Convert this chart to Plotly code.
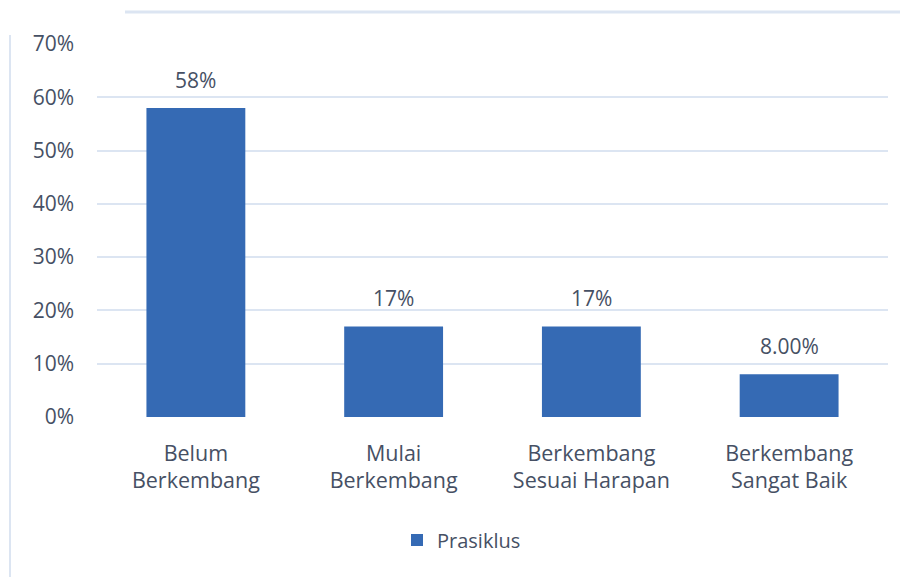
import plotly.graph_objects as go

categories = ["Belum<br>Berkembang", "Mulai<br>Berkembang", "Berkembang<br>Sesuai Harapan", "Berkembang<br>Sangat Baik"]
values = [0.58, 0.17, 0.17, 0.08]
value_labels = ["58%", "17%", "17%", "8.00%"]
series_name = "Prasiklus"
y_ticks = [0, 0.1, 0.2, 0.3, 0.4, 0.5, 0.6, 0.7]

TEXT = "#465064"
GRID = "#dce5f2"
BAR = "#356ab4"
FONT = "Open Sans"

OFF = 8  # page body margin
W, H = 900, 569
L, R, T, B = 89, 20, 36, 160
pw, ph = W - L - R, H - T - B

def px_x(x):
    return (x - OFF - L) / pw

def px_y(y):
    return (H - B - (y - OFF)) / ph

fig = go.Figure()
fig.add_trace(go.Bar(
    x=categories, y=values, name=series_name,
    marker=dict(color=BAR, line=dict(width=0)),
    showlegend=True,
))

for c, v, t in zip(categories, values, value_labels):
    fig.add_annotation(x=c, y=v, text=t, showarrow=False, yanchor="bottom",
                       yshift=12, font=dict(family=FONT, size=21, color=TEXT))

fig.add_shape(type="line", xref="paper", yref="paper",
              x0=px_x(125), x1=px_x(915), y0=px_y(12), y1=px_y(12),
              line=dict(color=GRID, width=3), layer="below")
fig.add_shape(type="line", xref="paper", yref="paper",
              x0=px_x(10), x1=px_x(10), y0=px_y(35), y1=px_y(585),
              line=dict(color=GRID, width=2), layer="below")

fig.update_layout(
    width=W, height=H,
    margin=dict(l=L, r=R, t=T, b=B, pad=0),
    paper_bgcolor="white", plot_bgcolor="white",
    font=dict(family=FONT, size=21, color=TEXT),
    bargap=0.5,
    showlegend=True,
    legend=dict(orientation="h", x=px_x(397), xanchor="left",
                y=px_y(540), yanchor="middle",
                font=dict(family=FONT, size=20, color=TEXT)),
    xaxis=dict(showgrid=False, showline=False, zeroline=False,
               ticks="", ticklabelstandoff=21,
               tickfont=dict(family=FONT, size=21.5, color=TEXT)),
    yaxis=dict(range=[0, 0.7], tickvals=y_ticks, tickformat=".0%",
               showgrid=True, gridcolor=GRID, gridwidth=2,
               zeroline=False, showline=False, ticks="",
               ticklabelstandoff=22,
               tickfont=dict(family=FONT, size=21, color=TEXT)),
)

fig.write_html("out.html")
